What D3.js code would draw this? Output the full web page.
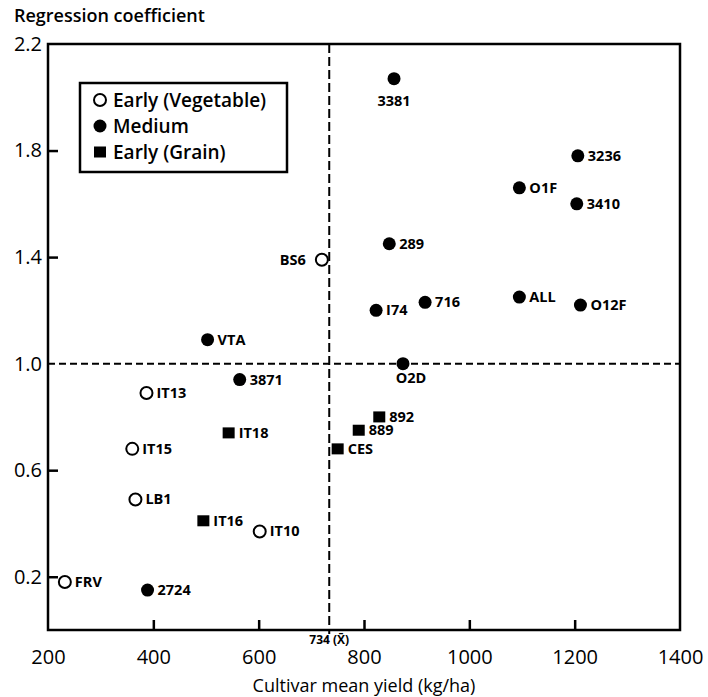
<!DOCTYPE html>
<html lang="en">
<head>
	<meta charset="UTF-8"/>
	<title>Regression coefficient vs cultivar mean yield</title>
	<style>
	body { margin: 0; background: #fff; }
	text { font-family: "Open Sans", "DejaVu Sans", sans-serif; fill: #000; }
	</style>
	<script src="https://d3js.org/d3.v7.min.js"></script>
</head>
<body>
	<div id="chart"></div>
	<script>

	// cultivar data
	var names  = ["FRV", "2724", "IT13", "IT15", "LB1", "IT16", "IT10", "IT18", "3871",
	              "CES", "889", "892", "VTA", "O2D", "BS6", "289", "I74", "716",
	              "ALL", "O12F", "3410", "O1F", "3236", "3381"];
	var groups = ["veg", "med", "veg", "veg", "veg", "grain", "veg", "grain", "med",
	              "grain", "grain", "grain", "med", "med", "veg", "med", "med", "med",
	              "med", "med", "med", "med", "med", "med"];
	var yields = [232, 389, 387, 360, 366, 495, 602, 543, 564,
	              750, 790, 829, 503, 874, 720, 848, 823, 916,
	              1095, 1211, 1204, 1095, 1206, 857];
	var coefs  = [0.18, 0.15, 0.89, 0.68, 0.49, 0.41, 0.37, 0.74, 0.94,
	              0.68, 0.75, 0.80, 1.09, 1.00, 1.39, 1.45, 1.20, 1.23,
	              1.25, 1.22, 1.60, 1.66, 1.78, 2.07];

	var xTicks = [200, 400, 600, 800, 1000, 1200, 1400];
	var yTicks = [0.2, 0.6, 1.0, 1.4, 1.8, 2.2];
	var meanYield = 734;

	var legendItems = [
		{key: "veg",   text: "Early (Vegetable)"},
		{key: "med",   text: "Medium"},
		{key: "grain", text: "Early (Grain)"}
	];

	// where each label sits relative to its marker
	var labelSide = {"3381": "below", "BS6": "left", "O2D": "belowright"};

	var w = 708, h = 697;
	var margin = {left: 48, right: 28, top: 44, bottom: 67};

	var xScale = d3.scaleLinear()
		.domain([200, 1400])
		.range([margin.left, w - margin.right]);

	var yScale = d3.scaleLinear()
		.domain([0, 2.2])
		.range([h - margin.bottom, margin.top]);

	var svg = d3.select("#chart")
		.append("svg")
		.attr("width", w)
		.attr("height", h);

	var x0 = xScale(200), x1 = xScale(1400);
	var y0 = yScale(0), y1 = yScale(2.2);

	// dashed reference lines
	svg.append("line")
		.attr("x1", x0).attr("x2", x1)
		.attr("y1", yScale(1.0)).attr("y2", yScale(1.0))
		.attr("stroke", "#000").attr("stroke-width", 2)
		.attr("stroke-dasharray", "7,4");

	svg.append("line")
		.attr("x1", xScale(meanYield)).attr("x2", xScale(meanYield))
		.attr("y1", y1).attr("y2", y0 + 4)
		.attr("stroke", "#000").attr("stroke-width", 2)
		.attr("stroke-dasharray", "9,4");

	// frame
	svg.append("rect")
		.attr("x", x0).attr("y", y1)
		.attr("width", x1 - x0).attr("height", y0 - y1)
		.attr("fill", "none")
		.attr("stroke", "#000").attr("stroke-width", 2.5);

	// x axis ticks (inward) and labels
	var xAxis = d3.axisBottom(xScale)
		.tickValues(xTicks)
		.tickSizeInner(-10)
		.tickSizeOuter(0)
		.tickPadding(20)
		.tickFormat(d3.format("d"));

	var gx = svg.append("g")
		.attr("transform", "translate(0," + y0 + ")")
		.call(xAxis);
	gx.select(".domain").remove();
	gx.selectAll(".tick line")
		.attr("stroke-width", 2.5)
		.filter(function(d) { return d == 200 || d == 1400; }).remove();
	gx.selectAll(".tick text")
		.style("font-size", "20px")
		.attr("dy", "0.71em");

	// y axis ticks (inward) and labels
	var yAxis = d3.axisLeft(yScale)
		.tickValues(yTicks)
		.tickSizeInner(-10)
		.tickSizeOuter(0)
		.tickPadding(6)
		.tickFormat(d3.format(".1f"));

	var gy = svg.append("g")
		.attr("transform", "translate(" + x0 + ",0)")
		.call(yAxis);
	gy.select(".domain").remove();
	gy.selectAll(".tick line")
		.attr("stroke-width", 2.5)
		.filter(function(d) { return d == 2.2 || d == 1.0; }).remove();
	gy.selectAll(".tick text")
		.style("font-size", "20px");

	// axis titles
	svg.append("text")
		.attr("x", 14).attr("y", 22)
		.style("font-size", "18px")
		.style("font-weight", 600)
		.text("Regression coefficient");

	svg.append("text")
		.attr("x", (x0 + x1) / 2).attr("y", h - 5)
		.attr("text-anchor", "middle")
		.style("font-size", "18px")
		.style("font-weight", 500)
		.text("Cultivar mean yield (kg/ha)");

	// mean label
	svg.append("text")
		.attr("x", xScale(meanYield)).attr("y", y0 + 14)
		.attr("text-anchor", "middle")
		.style("font-size", "12px")
		.style("font-weight", 700)
		.text(meanYield + " (X\u0304)");

	// markers
	function drawMarker(g, key) {
		if (key == "veg") {
			g.append("circle").attr("r", 6)
				.attr("fill", "#fff").attr("stroke", "#000").attr("stroke-width", 2);
		} else if (key == "med") {
			g.append("circle").attr("r", 6.5).attr("fill", "#000");
		} else {
			g.append("rect").attr("x", -6).attr("y", -5.5)
				.attr("width", 12).attr("height", 11).attr("fill", "#000");
		}
	}

	var points = svg.selectAll(".pt")
		.data(d3.range(names.length))
		.enter()
		.append("g")
		.attr("class", "pt")
		.attr("transform", function(i) {
			return "translate(" + xScale(yields[i]) + "," + yScale(coefs[i]) + ")";
		});

	points.each(function(i) {
		var g = d3.select(this);
		drawMarker(g, groups[i]);
		var side = labelSide[names[i]] || "right";
		var t = g.append("text")
			.style("font-size", "14.5px")
			.style("font-weight", 700)
			.text(names[i]);
		if (side == "right") {
			t.attr("x", 10).attr("y", 5);
		} else if (side == "left") {
			t.attr("x", -16).attr("y", 5).attr("text-anchor", "end");
		} else if (side == "below") {
			t.attr("x", 0).attr("y", 27).attr("text-anchor", "middle");
		} else {
			t.attr("x", 8).attr("y", 19).attr("text-anchor", "middle");
		}
	});

	// legend
	var legend = svg.append("g").attr("transform", "translate(80,83)");
	legend.append("rect")
		.attr("width", 207).attr("height", 89)
		.attr("fill", "#fff")
		.attr("stroke", "#000").attr("stroke-width", 2.5);

	var items = legend.selectAll(".item")
		.data(legendItems)
		.enter()
		.append("g")
		.attr("class", "item")
		.attr("transform", function(d, i) { return "translate(20," + (17 + i * 26) + ")"; });

	items.each(function(d) { drawMarker(d3.select(this), d.key); });
	items.append("text")
		.attr("x", 13).attr("y", 7)
		.style("font-size", "19px")
		.style("font-weight", 600)
		.text(function(d) { return d.text; });

	</script>
</body>
</html>
